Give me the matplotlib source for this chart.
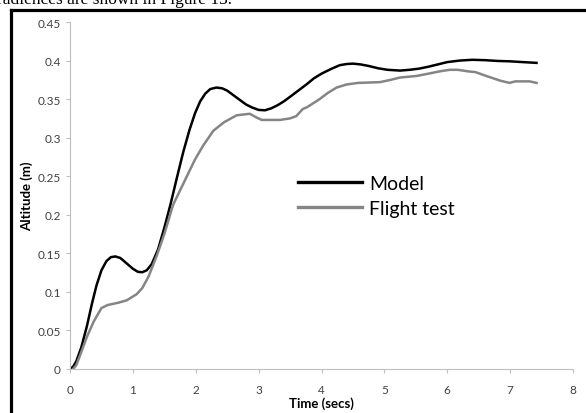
import matplotlib
matplotlib.use('Agg')
import matplotlib.pyplot as plt
from matplotlib.lines import Line2D
from matplotlib.ticker import FuncFormatter, MultipleLocator

# данные
model_t = [0, 0.05, 0.1, 0.18, 0.27, 0.35, 0.42, 0.5, 0.58, 0.65, 0.72, 0.8, 0.9, 1.0,
           1.08, 1.15, 1.22, 1.3, 1.4, 1.5, 1.6, 1.7, 1.8, 1.9, 1.99, 2.07, 2.15, 2.23,
           2.33, 2.42, 2.5, 2.6, 2.7, 2.8, 2.9, 3.0, 3.1, 3.2, 3.3, 3.4, 3.5, 3.63, 3.76,
           3.88, 4.0, 4.15, 4.29, 4.4, 4.5, 4.62, 4.75, 4.9, 5.05, 5.25, 5.4, 5.55, 5.7,
           5.85, 6.0, 6.2, 6.4, 6.6, 6.8, 7.0, 7.2, 7.42]
model_h = [0, 0.003, 0.01, 0.028, 0.056, 0.085, 0.108, 0.128, 0.14, 0.145, 0.146, 0.144,
           0.137, 0.13, 0.126, 0.1255, 0.128, 0.136, 0.155, 0.183, 0.214, 0.248, 0.281,
           0.31, 0.332, 0.347, 0.357, 0.363, 0.365, 0.364, 0.361, 0.355, 0.349, 0.343,
           0.339, 0.336, 0.3355, 0.338, 0.342, 0.347, 0.353, 0.361, 0.369, 0.377, 0.383,
           0.389, 0.394, 0.3955, 0.396, 0.395, 0.393, 0.390, 0.388, 0.387, 0.388, 0.3895,
           0.392, 0.395, 0.398, 0.400, 0.401, 0.4005, 0.3995, 0.399, 0.398, 0.397]

flight_t = [0.05, 0.1, 0.17, 0.27, 0.38, 0.5, 0.6, 0.77, 0.9, 1.06, 1.15, 1.25, 1.38, 1.5,
            1.64, 1.8, 1.99, 2.12, 2.28, 2.45, 2.65, 2.86, 2.97, 3.05, 3.34, 3.5, 3.6, 3.7,
            3.78, 3.97, 4.1, 4.24, 4.4, 4.58, 4.93, 5.1, 5.25, 5.51, 5.7, 5.88, 6.04, 6.17,
            6.33, 6.45, 6.62, 6.84, 6.99, 7.08, 7.31, 7.42]
flight_h = [0.0, 0.005, 0.02, 0.042, 0.062, 0.079, 0.083, 0.086, 0.089, 0.097, 0.105, 0.12,
            0.147, 0.175, 0.213, 0.24, 0.272, 0.29, 0.309, 0.32, 0.329, 0.331, 0.326, 0.323,
            0.323, 0.325, 0.328, 0.337, 0.340, 0.350, 0.358, 0.365, 0.369, 0.371, 0.372,
            0.375, 0.378, 0.380, 0.383, 0.386, 0.388, 0.388, 0.386, 0.385, 0.380, 0.374,
            0.371, 0.373, 0.373, 0.371]

plt.rcParams['font.family'] = ['Lato', 'DejaVu Sans']

fig = plt.figure(figsize=(5.86, 4.14), dpi=100)
ax = fig.add_axes([70 / 586, 1 - 370 / 414, 503 / 586, 347 / 414])

ax.plot(model_t, model_h, color='black', lw=1.8, label='Model')
ax.plot(flight_t, flight_h, color='#858585', lw=1.8, label='Flight test')

ax.set_xlim(0, 8)
ax.set_ylim(0, 0.45)
ax.xaxis.set_major_locator(MultipleLocator(1))
ax.yaxis.set_major_locator(MultipleLocator(0.05))
ax.yaxis.set_major_formatter(FuncFormatter(lambda v, p: '%g' % round(v, 2)))

for s in ['top', 'right']:
    ax.spines[s].set_visible(False)
for s in ['left', 'bottom']:
    ax.spines[s].set_color('#bfbfbf')
    ax.spines[s].set_linewidth(0.8)
ax.tick_params(colors='#bfbfbf', labelcolor='#404040', labelsize=8.5, length=3, width=0.8)
ax.tick_params(axis='x', pad=8)

ax.set_xlabel('Time (secs)', fontsize=9.5, fontweight='bold', labelpad=1)
ax.set_ylabel('Altitude (m)', fontsize=9.5, fontweight='bold', labelpad=3)

leg = ax.legend(loc='upper left', bbox_to_anchor=(298 / 586, 1 - 176 / 414),
                bbox_transform=fig.transFigure, frameon=False, fontsize=14,
                handlelength=3.3, handletextpad=0.35, labelspacing=0.4,
                borderpad=0, borderaxespad=0)
for h in leg.get_lines():
    h.set_linewidth(2.4)

# рамка и обрезанная строка текста сверху
fig.add_artist(Line2D([10.5 / 586, 1], [1 - 10.5 / 414] * 2, color='black', lw=2.3,
                      transform=fig.transFigure))
fig.add_artist(Line2D([10.5 / 586] * 2, [0, 1 - 10.5 / 414], color='black', lw=2.3,
                      transform=fig.transFigure))
fig.text(-0.005, 1 - 4 / 414, 'radiences are shown in Figure 13.', fontsize=12.5,
         family='Liberation Serif', va='baseline')

fig.savefig('out.png', dpi=100)
